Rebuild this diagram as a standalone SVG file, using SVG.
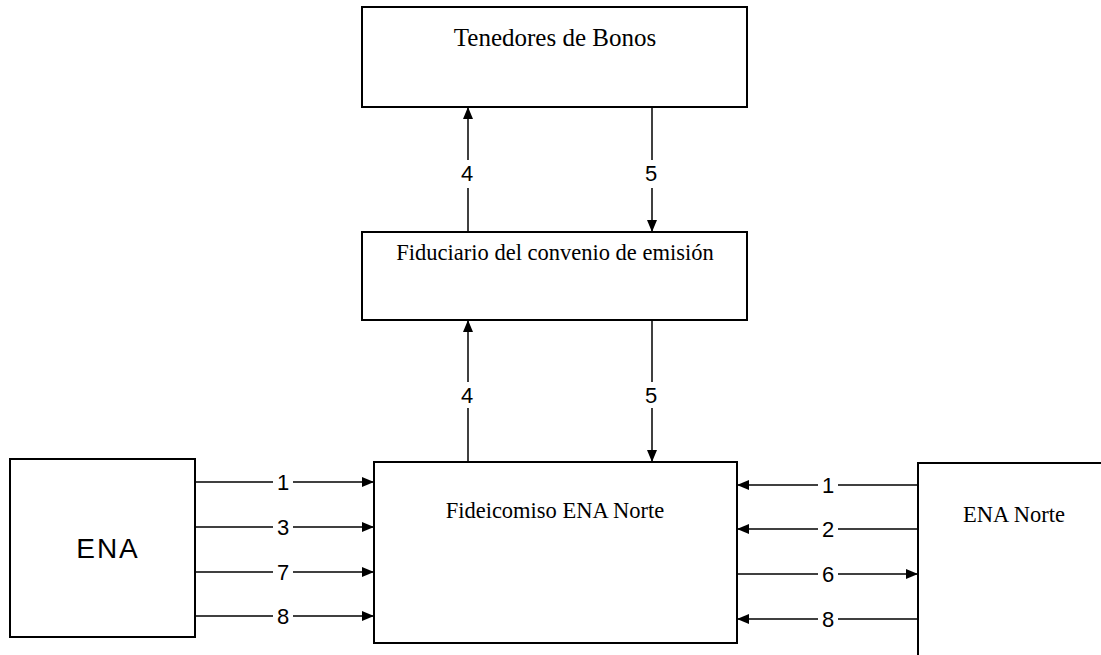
<svg xmlns="http://www.w3.org/2000/svg" width="1101" height="655" viewBox="0 0 1101 655">
<style>
.box{fill:#fff;stroke:#000;stroke-width:2}
.ln{stroke:#000;stroke-width:1.5;fill:none}
.serif{font-family:"Liberation Serif","Times New Roman",serif;font-size:22.5px;fill:#000;text-anchor:middle}
.num{font-family:"Liberation Sans",Arial,sans-serif;font-size:22px;fill:#000;text-anchor:middle}
.big{font-family:"Liberation Sans",Arial,sans-serif;font-size:28px;letter-spacing:2px;fill:#000;text-anchor:middle}
</style>
<defs>
<marker id="ah" viewBox="0 0 12 10" refX="12" refY="5" markerWidth="12" markerHeight="10" markerUnits="userSpaceOnUse" orient="auto">
<path d="M0,0 L12,5 L0,10 Z" fill="#000"/>
</marker>
</defs>
<rect width="1101" height="655" fill="#fff"/>
<g id="tenedores">
<rect class="box" x="362" y="7" width="385" height="100"/>
<text class="serif" x="555" y="46" style="font-size:25px">Tenedores de Bonos</text>
</g>
<g id="fiduciario">
<rect class="box" x="362" y="232" width="385" height="88"/>
<text class="serif" x="555" y="260">Fiduciario del convenio de emisión</text>
</g>
<g id="fideicomiso">
<rect class="box" x="374" y="462" width="363" height="181"/>
<text class="serif" x="555" y="518">Fideicomiso ENA Norte</text>
</g>
<g id="ena">
<rect class="box" x="10" y="459" width="185" height="178"/>
<text class="big" x="108" y="558">ENA</text>
</g>
<g id="ena-norte">
<path class="box" d="M1103,463 H918 V657"/>
<text class="serif" x="1014" y="522">ENA Norte</text>
</g>
<g id="connectors">
<path class="ln" d="M468,232 V188"/>
<path class="ln" d="M468,160 V107" marker-end="url(#ah)"/>
<text class="num" x="467" y="181">4</text>
<path class="ln" d="M652,107 V160"/>
<path class="ln" d="M652,188 V232" marker-end="url(#ah)"/>
<text class="num" x="651" y="181">5</text>
<path class="ln" d="M468,462 V408"/>
<path class="ln" d="M468,382 V320" marker-end="url(#ah)"/>
<text class="num" x="467" y="403">4</text>
<path class="ln" d="M652,320 V382"/>
<path class="ln" d="M652,408 V462" marker-end="url(#ah)"/>
<text class="num" x="651" y="403">5</text>
<path class="ln" d="M195,482 H273"/>
<path class="ln" d="M293,482 H374" marker-end="url(#ah)"/>
<text class="num" x="283" y="490">1</text>
<path class="ln" d="M195,527 H273"/>
<path class="ln" d="M293,527 H374" marker-end="url(#ah)"/>
<text class="num" x="283" y="535">3</text>
<path class="ln" d="M195,572 H273"/>
<path class="ln" d="M293,572 H374" marker-end="url(#ah)"/>
<text class="num" x="283" y="580">7</text>
<path class="ln" d="M195,616 H273"/>
<path class="ln" d="M293,616 H374" marker-end="url(#ah)"/>
<text class="num" x="283" y="624">8</text>
<path class="ln" d="M918,485 H838"/>
<path class="ln" d="M818,485 H737" marker-end="url(#ah)"/>
<text class="num" x="828" y="493">1</text>
<path class="ln" d="M918,529 H838"/>
<path class="ln" d="M818,529 H737" marker-end="url(#ah)"/>
<text class="num" x="828" y="537">2</text>
<path class="ln" d="M737,574 H818"/>
<path class="ln" d="M838,574 H918" marker-end="url(#ah)"/>
<text class="num" x="828" y="582">6</text>
<path class="ln" d="M918,619 H838"/>
<path class="ln" d="M818,619 H737" marker-end="url(#ah)"/>
<text class="num" x="828" y="627">8</text>
</g>
</svg>
